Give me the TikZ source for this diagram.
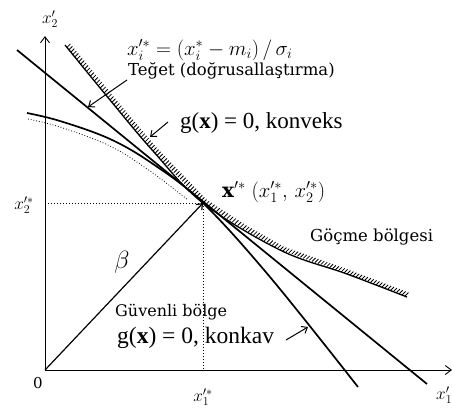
\documentclass[tikz,border=0pt]{standalone}
\usepackage{fontspec}
\setmainfont{DejaVu Serif}
\newfontfamily\timesf{Liberation Serif}
\usetikzlibrary{arrows.meta,calc}
\newcommand\myfs[1]{\fontsize{#1}{#1}\selectfont}
\begin{document}
\begin{tikzpicture}[x=1pt,y=-1pt,
  axis/.style={line width=0.9pt,-{Straight Barb[length=6pt,width=9pt]}},
  curve/.style={line width=1.7pt},
  lbl/.style={inner sep=0pt,anchor=west},
  ptr/.style={line width=1pt,-{Straight Barb[length=5pt,width=8pt]}},
  guide/.style={line width=1pt,dotted},
  tick/.style={line width=0.8pt},
]
\useasboundingbox (0,0) rectangle (452,408);
% key points
\coordinate (O) at (45,370);
\coordinate (X) at (203,203);
\coordinate (Ytop) at (45,36);
\coordinate (Xend) at (452,370);
\coordinate (H) at (45,203);
\coordinate (V) at (203,370);
\coordinate (T1) at (17,50);
\coordinate (T2) at (427,384);
% axes
\draw[axis] (O) -- (Ytop);
\draw[axis] (O) -- (Xend);
% guides
\draw[guide] (H) -- (X);
\draw[guide] (X) -- (V);
% tangent
\draw[curve] (T1) -- (T2);
% concave limit state
\draw[curve] plot[smooth,tension=0.6] coordinates {(27,113) (60,121) (110,139) (153,164) (203,203) (270,277) (358,387)};
\draw[dotted,line width=0.8pt] plot[smooth,tension=0.6] coordinates {(28,119) (60,127) (110,146) (150,171) (188,200)};
% convex limit state (hatched)
\draw[curve,line width=1.3pt] plot[smooth,tension=0.6] coordinates {(65,45) (110,100) (153,151) (203,203) (280,250) (347,274) (407,297)};
\foreach \ax/\ay/\bx/\by in {65/45/110/100, 110/100/153/151, 153/151/203/203, 203/203/243/229, 243/229/280/250, 280/250/347/274, 347/274/405/296}{
  \pgfmathsetmacro\nn{int(veclen(\bx-\ax,\by-\ay)/3)}
  \foreach \k in {1,...,\nn}{
    \pgfmathsetmacro\tt{\k/\nn}
    \draw[tick] ($(\ax,\ay)!\tt!(\bx,\by)$) -- ++(3.5,-3.5);
  }
}
% beta
\draw[ptr,line width=1.2pt] (O) -- (X);
% pointers
\coordinate (pa1) at (127,80); \coordinate (pa2) at (88,107);
\coordinate (pb1) at (168,122); \coordinate (pb2) at (150,137);
\coordinate (pc1) at (286,340); \coordinate (pc2) at (308,327);
\draw[ptr] (pa1) -- (pa2);
\draw[ptr] (pb1) -- (pb2);
\draw[ptr] (pc1) -- (pc2);
% labels
\node[lbl] (f) at (127,50) {\myfs{20}$x_i'^{*}=(x_i^{*}-m_i)\,/\,\sigma_i$};
\node[lbl] (teg) at (128,71) {\myfs{16.5}Teğet (doğrusallaştırma)};
\node[lbl] (kvx) at (180,123) {\timesf\myfs{23}g(\textbf{x}) = 0, konveks};
\node[lbl] (xs) at (222,192) {\myfs{20}$\mathbf{x}'^{*}\;(x_1'^{*},\,x_2'^{*})$};
\node[lbl] (gc) at (310,237) {\myfs{16.5}Göçme bölgesi};
\node (b) at (122,262) {\myfs{24}$\beta$};
\node[lbl] (gv) at (115,312) {\myfs{16}Güvenli bölge};
\node[lbl] (kcv) at (117,338) {\timesf\myfs{23.5}g(\textbf{x}) = 0, konkav};
\node (z) at (38,383) {\myfs{15}0};
\node (x1s) at (203,397) {\myfs{18}$x_1'^{*}$};
\node (x2s) at (24,205) {\myfs{18}$x_2'^{*}$};
\node (x2) at (50,19) {\myfs{18}$x_2'$};
\node[lbl] (x1) at (436,395) {\myfs{17}$x_1'$};
\end{tikzpicture}
\end{document}
